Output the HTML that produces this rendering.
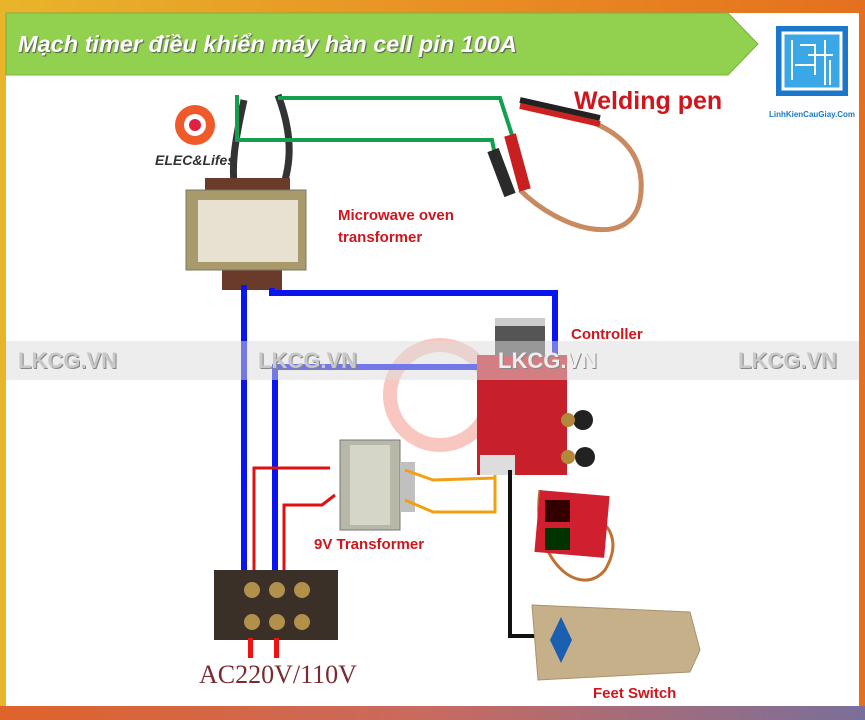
<!DOCTYPE html>
<html><head><meta charset="utf-8"><style>
body{margin:0;width:865px;height:720px;overflow:hidden;font-family:"Liberation Sans",sans-serif}
#f{position:absolute;left:0;top:0;width:865px;height:720px;background:linear-gradient(90deg,#e8b52a,#e98a22 60%,#e4701f)}
#bot{position:absolute;left:0;top:706px;width:865px;height:14px;background:linear-gradient(90deg,#e0632a,#c86a60 50%,#7a6f9a)}
#w{position:absolute;left:6px;top:13px;width:853px;height:693px;background:#fff}
svg{position:absolute;left:0;top:0}
.t{position:absolute;color:#d0161c;font-weight:bold;white-space:nowrap}
.wm{position:absolute;top:348px;font-size:22px;font-weight:bold;color:#c8c8c8;text-shadow:1px 1px 0 #888}
</style></head><body>
<div id="f"></div><div id="bot"></div><div id="w"></div>
<svg width="865" height="720">
<polygon points="6,13 728,13 758,44 728,75 6,75" fill="#92d050" stroke="#7ab040"/>
<rect x="768" y="18" width="88" height="102" fill="#fff"/>
<rect x="776" y="26" width="72" height="70" fill="#1a77c9"/>
<rect x="783" y="33" width="58" height="56" fill="#3aa7e6" stroke="#fff" stroke-width="3"/>
<path d="M792 40v40M800 45h15v30M808 55h25M825 40v45M795 65h20M830 60v25" stroke="#fff" stroke-width="2" fill="none"/>
<text x="812" y="117" font-size="8" font-weight="bold" fill="#1a77c9" text-anchor="middle" font-family="Liberation Sans">LinhKienCauGiay.Com</text>
<circle cx="195" cy="125" r="20" fill="#f05a2a"/><circle cx="195" cy="125" r="11" fill="#fff"/><circle cx="195" cy="125" r="6" fill="#e02040"/>
<text x="155" y="165" font-size="14" font-weight="bold" font-style="italic" fill="#333" font-family="Liberation Sans">ELEC&amp;Lifes</text>
<circle cx="440" cy="395" r="50" fill="none" stroke="#f8c8c0" stroke-width="14"/>
<path d="M244 100 C235 140,230 170,236 195 M278 95 C295 140,290 170,280 195" stroke="#333" stroke-width="7" fill="none"/>
<rect x="205" y="178" width="85" height="20" fill="#6a3a2a"/>
<rect x="222" y="265" width="60" height="25" fill="#6a3a2a"/>
<rect x="186" y="190" width="120" height="80" fill="#a89a6a" stroke="#776"/>
<rect x="198" y="200" width="100" height="62" fill="#e8e0d0"/>
<polyline points="278,98 500,98 512,135" stroke="#12a050" stroke-width="4" fill="none"/>
<polyline points="237,95 237,140 492,140 494,150" stroke="#12a050" stroke-width="4" fill="none"/>
<path d="M520 105 C600 115,650 140,640 200 C630 250,560 230,520 190" stroke="#c98a60" stroke-width="5" fill="none"/>
<path d="M520 100 L600 118" stroke="#222" stroke-width="6"/><path d="M520 106 L600 124" stroke="#c22" stroke-width="6"/>
<path d="M510 135 L525 190" stroke="#c82020" stroke-width="12"/>
<path d="M493 150 L510 195" stroke="#2a2a2a" stroke-width="12"/>
<polyline points="244,285 244,585" stroke="#0a14f0" stroke-width="6" fill="none"/>
<polyline points="272,288 272,293 555,293 555,362" stroke="#0a14f0" stroke-width="6" fill="none"/>
<polyline points="275,582 275,367 488,367" stroke="#0a14f0" stroke-width="6" fill="none"/>
<polyline points="254,582 254,468 330,468" stroke="#e01010" stroke-width="3" fill="none"/>
<polyline points="284,582 284,505 322,505 335,495" stroke="#e01010" stroke-width="3" fill="none"/>
<rect x="340" y="440" width="60" height="90" fill="#b8b8a8" stroke="#777"/>
<rect x="350" y="445" width="40" height="80" fill="#d6d6c8"/>
<rect x="400" y="462" width="15" height="50" fill="#c0c0c0"/>
<polyline points="405,470 433,480 495,478 495,470" stroke="#f0a010" stroke-width="3" fill="none"/>
<polyline points="405,500 433,512 495,512 495,470" stroke="#f0a010" stroke-width="3" fill="none"/>
<rect x="495" y="318" width="50" height="40" fill="#555"/><rect x="495" y="318" width="50" height="8" fill="#ccc"/>
<rect x="477" y="355" width="90" height="120" fill="#c8202a"/>
<rect x="480" y="455" width="35" height="20" fill="#ddd"/>
<circle cx="583" cy="420" r="10" fill="#222"/><circle cx="585" cy="457" r="10" fill="#222"/>
<circle cx="568" cy="420" r="7" fill="#b08a3a"/><circle cx="568" cy="457" r="7" fill="#b08a3a"/>
<polyline points="510,470 510,636 535,636" stroke="#111" stroke-width="4" fill="none"/>
<path d="M540 490 C530 560,580 600,605 570 C620 545,610 530,605 525" stroke="#c07030" stroke-width="3" fill="none"/>
<rect x="537" y="493" width="70" height="62" fill="#d02030" transform="rotate(5 572 524)"/>
<rect x="545" y="500" width="25" height="22" fill="#300"/><rect x="545" y="528" width="25" height="22" fill="#030"/>
<path d="M532 605 L690 612 L700 650 L690 672 L538 680 Z" fill="#c6b08a" stroke="#a8926a"/>
<polygon points="561,617 572,640 561,663 550,640" fill="#1a5fb0"/>
<rect x="214" y="570" width="124" height="70" fill="#3a3028"/>
<circle cx="252" cy="590" r="8" fill="#b0904a"/><circle cx="277" cy="590" r="8" fill="#b0904a"/><circle cx="302" cy="590" r="8" fill="#b0904a"/>
<circle cx="252" cy="622" r="8" fill="#b0904a"/><circle cx="277" cy="622" r="8" fill="#b0904a"/><circle cx="302" cy="622" r="8" fill="#b0904a"/>
<rect x="248" y="638" width="5" height="20" fill="#f01010"/><rect x="274" y="638" width="5" height="20" fill="#f01010"/>
<rect x="6" y="341" width="853" height="39" fill="rgba(220,220,220,0.5)"/>
</svg>
<div style="position:absolute;left:18px;top:31px;font-size:23.5px;font-weight:bold;font-style:italic;color:#fff;text-shadow:1px 1px 1px #555">Mạch timer điều khiển máy hàn cell pin 100A</div>
<div class="t" style="left:574px;top:87px;font-size:25px">Welding pen</div>
<div class="t" style="left:338px;top:205px;font-size:15px;line-height:22px">Microwave oven<br>transformer</div>
<div class="t" style="left:571px;top:326px;font-size:15px">Controller</div>
<div class="t" style="left:314px;top:536px;font-size:15px">9V Transformer</div>
<div class="t" style="left:593px;top:685px;font-size:15px">Feet Switch</div>
<div style="position:absolute;left:199px;top:660px;font-family:'Liberation Serif',serif;font-size:26px;color:#7a2a30">AC220V/110V</div>
<div class="wm" style="left:18px">LKCG.VN</div>
<div class="wm" style="left:258px">LKCG.VN</div>
<div class="wm" style="left:498px;color:#eee">LKCG.VN</div>
<div class="wm" style="left:738px">LKCG.VN</div>
</body></html>
